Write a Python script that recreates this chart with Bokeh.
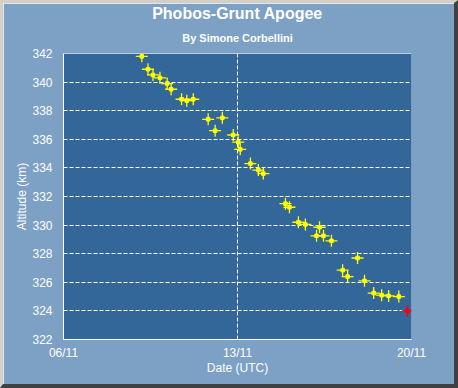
import pandas as pd
from bokeh.plotting import figure
from bokeh.models import (Range1d, FixedTicker, DatetimeTickFormatter, Title, Span,
                          ColumnDataSource)
from bokeh.embed import file_html
from bokeh.resources import INLINE

# ---- data ----
times = [
    "2011-11-09 03:36", "2011-11-09 09:36", "2011-11-09 14:24", "2011-11-09 21:07",
    "2011-11-10 04:05", "2011-11-10 07:55", "2011-11-10 18:00", "2011-11-10 23:02",
    "2011-11-11 05:17", "2011-11-11 19:41", "2011-11-12 02:24", "2011-11-12 09:22",
    "2011-11-12 19:55", "2011-11-13 00:43", "2011-11-13 02:38", "2011-11-13 12:29",
    "2011-11-13 20:10", "2011-11-14 00:58", "2011-11-14 22:19", "2011-11-15 02:10",
    "2011-11-15 10:48", "2011-11-15 17:31", "2011-11-16 04:19", "2011-11-16 07:12",
    "2011-11-16 11:02", "2011-11-16 18:43", "2011-11-17 05:31", "2011-11-17 10:19",
    "2011-11-17 19:55", "2011-11-18 02:38", "2011-11-18 11:31", "2011-11-18 19:12",
    "2011-11-19 01:55", "2011-11-19 11:46",
]
apogee = [
    341.8, 340.9, 340.5, 340.3,
    339.9, 339.5, 338.8, 338.7,
    338.8, 337.4, 336.6, 337.5,
    336.3, 335.8, 335.3, 334.3,
    333.85, 333.6, 331.5, 331.25,
    330.2, 330.05, 329.25, 329.85,
    329.25, 328.9, 326.85, 326.4,
    327.7, 326.1, 325.25, 325.1,
    325.05, 325.0,
]
last_time = ["2011-11-19 20:10"]
last_apogee = [324.0]

x_ticks = ["2011-11-06", "2011-11-13", "2011-11-20"]
y_ticks = [322, 324, 326, 328, 330, 332, 334, 336, 338, 340, 342]

BG = "#7DA1C4"
PLOT_BG = "#336699"

def ms(s):
    return pd.Timestamp(s).value / 1e6

src = ColumnDataSource(dict(t=[pd.Timestamp(s) for s in times], a=apogee))
src_last = ColumnDataSource(dict(t=[pd.Timestamp(s) for s in last_time], a=last_apogee))

p = figure(width=458, height=388, x_axis_type="datetime",
           output_backend="svg", toolbar_location=None, title=None,
           x_range=Range1d(ms(x_ticks[0]), ms(x_ticks[-1])),
           y_range=Range1d(y_ticks[0], y_ticks[-1]),
           min_border_left=60, min_border_right=50, min_border_top=49,
           min_border_bottom=52,
           styles={"border-left": "3px solid #D4D0C8", "border-top": "3px solid #D4D0C8",
                   "border-right": "4px solid #404040", "border-bottom": "4px solid #404040"})
p.background_fill_color = PLOT_BG
p.border_fill_color = BG
p.outline_line_color = None

sub = Title(text="By Simone Corbellini", align="center", text_color="white",
            text_font="Liberation Sans", text_font_size="11px", text_font_style="bold",
            standoff=19)
main = Title(text="Phobos-Grunt Apogee", align="center", text_color="white",
             text_font="Liberation Sans", text_font_size="16px", text_font_style="bold",
             standoff=-2)
p.add_layout(sub, "above")
p.add_layout(main, "above")

for ax in (p.xaxis[0], p.yaxis[0]):
    ax.axis_line_color = "white"
    ax.major_tick_line_color = None
    ax.minor_tick_line_color = None
    ax.major_label_text_color = "white"
    ax.major_label_text_font = "Liberation Sans"
    ax.major_label_text_font_size = "12px"
    ax.axis_label_text_color = "white"
    ax.axis_label_text_font = "Liberation Sans"
    ax.axis_label_text_font_size = "12px"
    ax.axis_label_text_font_style = "normal"

p.xaxis.ticker = FixedTicker(ticks=[ms(s) for s in x_ticks])
p.xaxis.formatter = DatetimeTickFormatter(days="%d/%m", months="%d/%m", hours="%d/%m")
p.xaxis.axis_label = "Date (UTC)"
p.xaxis.major_label_standoff = 0
p.xaxis.axis_label_standoff = -2

p.yaxis.ticker = FixedTicker(ticks=y_ticks)
p.yaxis.axis_label = "Altitude (km)"
p.yaxis.major_label_standoff = 5
p.yaxis.axis_label_standoff = 0

p.xgrid.ticker = FixedTicker(ticks=[ms(s) for s in x_ticks])
p.ygrid.ticker = FixedTicker(ticks=y_ticks)
for g in (p.xgrid[0], p.ygrid[0]):
    g.grid_line_color = "white"
    g.grid_line_dash = "4 2"
    g.grid_line_width = 1

p.add_layout(Span(location=y_ticks[-1], dimension="width", line_color="white", line_width=1))

for s, col in ((src, "#FFFF00"), (src_last, "#FF0000")):
    p.scatter("t", "a", source=s, marker="cross", size=12, line_color=col, line_width=1.3)
    p.scatter("t", "a", source=s, marker="square", size=3.5, line_color=col, fill_color=col)

open("out.html", "w").write(file_html(p, INLINE))
